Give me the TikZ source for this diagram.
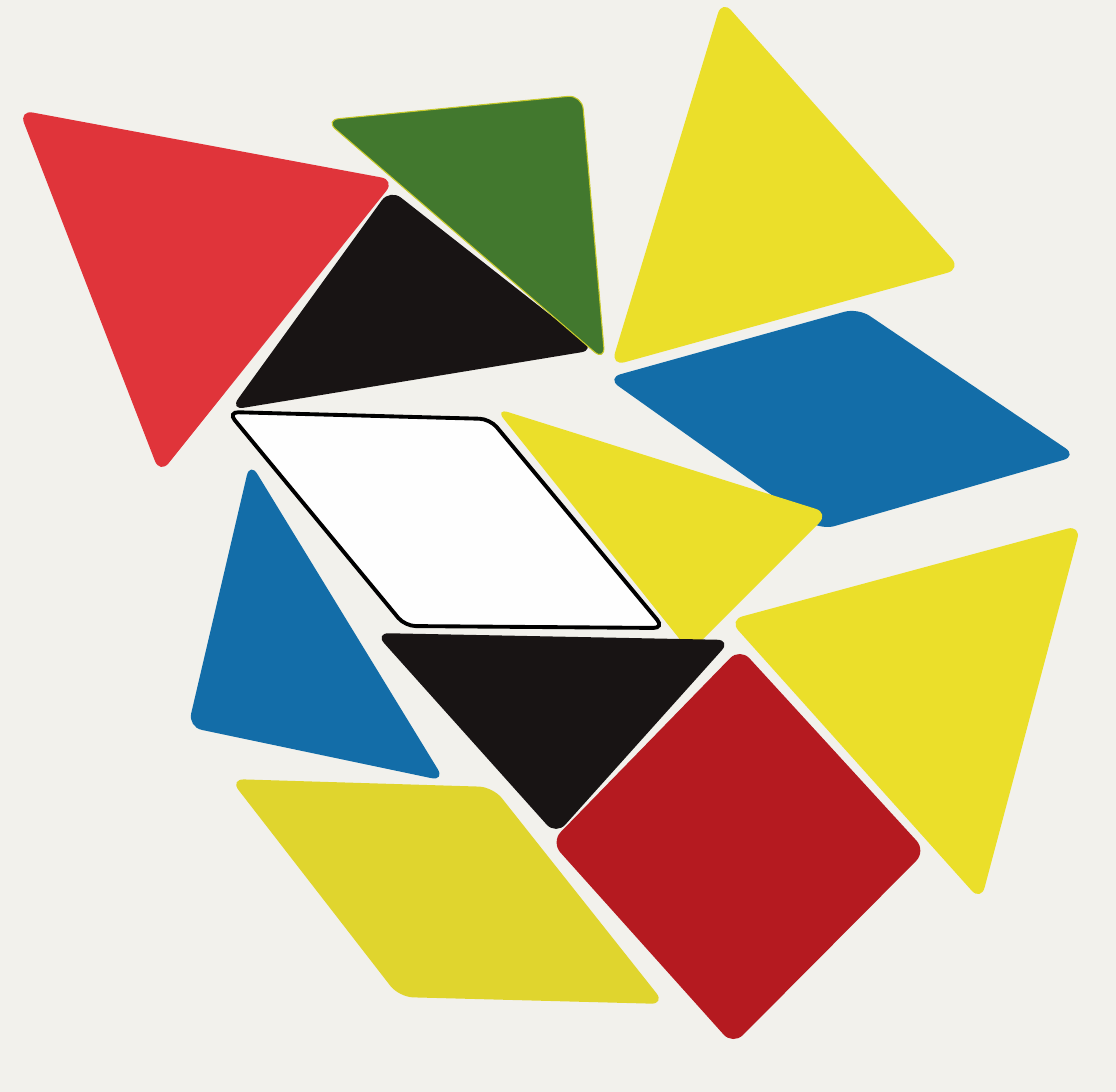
\documentclass[tikz,border=0pt]{standalone}
\begin{document}
\begin{tikzpicture}[x=0.02cm,y=-0.02cm]
\definecolor{paper}{HTML}{F2F1EC}
\definecolor{tred}{HTML}{E0343A}
\definecolor{sred}{HTML}{B51A20}
\definecolor{tyellow}{HTML}{EBDF2A}
\definecolor{pyellow}{HTML}{E0D52E}
\definecolor{tblue}{HTML}{136DA8}
\definecolor{tgreen}{HTML}{42782E}
\definecolor{tblack}{HTML}{181414}
\tikzset{piece/.style={rounded corners=8pt},
  outlined/.style={rounded corners=6pt, draw=black, line width=2.2pt, fill=white!96!paper}}
\fill[paper] (0,0) rectangle (1116,1092);
\useasboundingbox (0,0) rectangle (1116,1092);
% top left red triangle
\fill[piece, tred] (19,110) -- (395,180) -- (160,474) -- cycle;
% top black triangle
\fill[piece, tblack] (390,189) -- (595,350) -- (230,410) -- cycle;
% green triangle
\fill[piece, tgreen, draw=tyellow!80!tgreen, line width=0.6pt] (325,120) -- (582,95) -- (605,361) -- cycle;
% top yellow triangle
\fill[piece, tyellow] (722,0) -- (961,269) -- (611,366) -- cycle;
% blue rhombus
\fill[piece, tblue] (607,378) -- (858,308) -- (1077,456) -- (821,530) -- cycle;
% middle yellow triangle
\fill[piece, tyellow] (495,408) -- (829,513) -- (690,652) -- cycle;
% outlined rhombus
\draw[outlined] (228,412) -- (490,419) -- (664,628) -- (405,626) -- cycle;
% right yellow triangle
\fill[piece, tyellow] (729,620) -- (1081,525) -- (981,901) -- cycle;
% left blue triangle
\fill[piece, tblue] (250,462) -- (445,781) -- (188,727) -- cycle;
% bottom black triangle
\fill[piece, tblack] (375,633) -- (731,640) -- (556,835) -- cycle;
% bottom yellow parallelogram
\fill[piece, pyellow] (230,779) -- (493,787) -- (665,1004) -- (399,997) -- cycle;
% red square
\fill[piece, sred] (740,648) -- (926,851) -- (733,1045) -- (551,842) -- cycle;
\end{tikzpicture}
\end{document}
